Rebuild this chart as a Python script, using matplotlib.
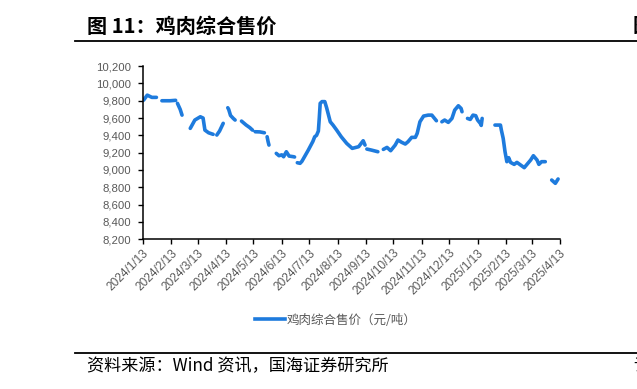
import numpy as np
import pandas as pd
import matplotlib
matplotlib.use('Agg')
import matplotlib.pyplot as plt
from matplotlib.ticker import FuncFormatter
from matplotlib.lines import Line2D

plt.rcParams['font.family'] = ['Noto Sans CJK SC', 'DejaVu Sans']

title = '图 11：鸡肉综合售价'
source = '资料来源：Wind 资讯，国海证券研究所'
series_name = '鸡肉综合售价（元/吨）'

# 读图估计的数据, NaN = 断档
dates = [
    '2024-01-14', '2024-01-18', '2024-01-23', '2024-01-28', '2024-01-31',
    '2024-02-03', '2024-02-12', '2024-02-18', '2024-02-19',
    '2024-02-20', '2024-02-23', '2024-02-25', '2024-03-01',
    '2024-03-05', '2024-03-10', '2024-03-16', '2024-03-19', '2024-03-21', '2024-03-25', '2024-03-30', '2024-04-01',
    '2024-04-03', '2024-04-06', '2024-04-10', '2024-04-12',
    '2024-04-15', '2024-04-16', '2024-04-18', '2024-04-21', '2024-04-23', '2024-04-27',
    '2024-04-30', '2024-05-05', '2024-05-09', '2024-05-12', '2024-05-13',
    '2024-05-15', '2024-05-20', '2024-05-25', '2024-05-26',
    '2024-05-28', '2024-05-29', '2024-05-30', '2024-06-03',
    '2024-06-07', '2024-06-10', '2024-06-13', '2024-06-15', '2024-06-18', '2024-06-21', '2024-06-26', '2024-06-27', '2024-06-28',
    '2024-06-30', '2024-07-03', '2024-07-05', '2024-07-09', '2024-07-12', '2024-07-14', '2024-07-17', '2024-07-19',
    '2024-07-21', '2024-07-23', '2024-07-24', '2024-07-25', '2024-07-27', '2024-07-30', '2024-08-01', '2024-08-05',
    '2024-08-08', '2024-08-12', '2024-08-17', '2024-08-23', '2024-08-29', '2024-09-05', '2024-09-10', '2024-09-12',
    '2024-09-13',
    '2024-09-14', '2024-09-19', '2024-09-26', '2024-09-29',
    '2024-10-02', '2024-10-06', '2024-10-10', '2024-10-15', '2024-10-18', '2024-10-22', '2024-10-26', '2024-10-29',
    '2024-11-02', '2024-11-06', '2024-11-08', '2024-11-11', '2024-11-15', '2024-11-20', '2024-11-24', '2024-11-27',
    '2024-11-29', '2024-12-02',
    '2024-12-05', '2024-12-08', '2024-12-12', '2024-12-16', '2024-12-19', '2024-12-23', '2024-12-26', '2024-12-27',
    '2024-12-30',
    '2025-01-02', '2025-01-05', '2025-01-08', '2025-01-11', '2025-01-13', '2025-01-16', '2025-01-17', '2025-01-18',
    '2025-01-25',
    '2025-02-01', '2025-02-07', '2025-02-08', '2025-02-10', '2025-02-12', '2025-02-14', '2025-02-16', '2025-02-18',
    '2025-02-22', '2025-02-25', '2025-03-01', '2025-03-05', '2025-03-08', '2025-03-12', '2025-03-15', '2025-03-19',
    '2025-03-21', '2025-03-24', '2025-03-28', '2025-04-01',
    '2025-04-04', '2025-04-08', '2025-04-11',
]
prices = [
    9807, 9865, 9839, 9839, np.nan,
    9800, 9800, 9805, np.nan,
    9770, 9700, 9634, np.nan,
    9481, 9577, 9615, 9600, 9461, 9430, 9412, np.nan,
    9404, 9450, 9539, np.nan,
    9719, 9700, 9630, 9596, 9577, np.nan,
    9565, 9520, 9490, 9461, np.nan,
    9442, 9440, 9430, np.nan,
    9384, 9330, 9288, np.nan,
    9192, 9165, 9175, 9153, 9211, 9161, 9153, 9150, np.nan,
    9084, 9077, 9100, 9173, 9230, 9269, 9330, 9384,
    9400, 9450, 9600, 9770, 9790, 9790, 9720, 9557,
    9519, 9461, 9384, 9307, 9250, 9269, 9338, 9288,
    np.nan,
    9242, 9230, 9211, np.nan,
    9238, 9261, 9223, 9288, 9346, 9320, 9300, 9327,
    9377, 9377, 9423, 9557, 9623, 9634, 9634, 9596,
    9569, np.nan,
    9557, 9577, 9550, 9596, 9692, 9742, 9711, 9673,
    np.nan,
    9596, 9584, 9634, 9627, 9577, 9538, 9515, 9596,
    np.nan,
    9519, 9519, 9461, 9365, 9211, 9096, 9142, 9088,
    9065, 9088, 9057, 9027, 9065, 9115, 9165, 9115,
    9065, 9096, 9096, np.nan,
    8884, 8846, 8896,
]

x = pd.to_datetime(dates)
y = np.array(prices, dtype=float)

tick_dates = pd.date_range('2024-01-01', '2025-04-01', freq='MS') + pd.Timedelta(days=12)
tick_labels = [f'{d.year}/{d.month}/{d.day}' for d in tick_dates]

fig = plt.figure(figsize=(6.37, 3.89), dpi=100)
ax = fig.add_axes([0.224, 0.385, 0.655, 0.445])

line_color = '#1E7BDD'
gray = '#595959'

ax.plot(x, y, color=line_color, linewidth=2.6, solid_capstyle='round')

ax.set_xlim(pd.Timestamp('2024-01-13'), pd.Timestamp('2025-04-13'))
ax.set_ylim(8200, 10200)
ax.set_yticks(np.arange(8200, 10201, 200))
ax.yaxis.set_major_formatter(FuncFormatter(lambda v, p: f'{int(v):,}'))
ax.set_xticks(tick_dates)
ax.set_xticklabels(tick_labels, rotation=45, ha='right', rotation_mode='anchor')

for lab in ax.get_yticklabels():
    lab.set_fontfamily('Liberation Sans')
    lab.set_fontsize(8.2)
    lab.set_color(gray)
for lab in ax.get_xticklabels():
    lab.set_fontfamily('Liberation Sans')
    lab.set_fontsize(8.6)
    lab.set_color(gray)

ax.spines['top'].set_visible(False)
ax.spines['right'].set_visible(False)
ax.spines['left'].set_linewidth(1.1)
ax.spines['bottom'].set_linewidth(1.1)
ax.tick_params(axis='both', direction='out', length=3.5, width=1, color='black')
ax.tick_params(axis='y', pad=5)
ax.tick_params(axis='x', pad=2)

# 图例
handle = Line2D([], [], color=line_color, linewidth=2.6)
fig.legend([handle], [series_name], loc='center', bbox_to_anchor=(0.527, 0.177),
           frameon=False, handlelength=2.4, handletextpad=0.1,
           prop={'family': 'Noto Sans CJK SC', 'size': 9}, labelcolor=gray)

# 标题与来源 (右侧被裁掉的字与原图一致)
fig.text(87 / 637, 1 - 26 / 389, title, fontsize=14.5, fontweight='bold',
         ha='left', va='center', color='black')
fig.text(633 / 637, 1 - 26 / 389, '图', fontsize=14.5, fontweight='bold',
         ha='left', va='center', color='black')
fig.add_artist(Line2D([75 / 637, 1], [1 - 40.7 / 389] * 2, color='black', linewidth=1.3))
fig.add_artist(Line2D([75 / 637, 1], [1 - 353.3 / 389] * 2, color='black', linewidth=1.3))
fig.text(87 / 637, 1 - 366 / 389, source, fontsize=12.3, ha='left', va='center', color='black')
fig.text(633 / 637, 1 - 366 / 389, '请', fontsize=12.3, ha='left', va='center', color='black')

fig.savefig('out.png', dpi=100)
